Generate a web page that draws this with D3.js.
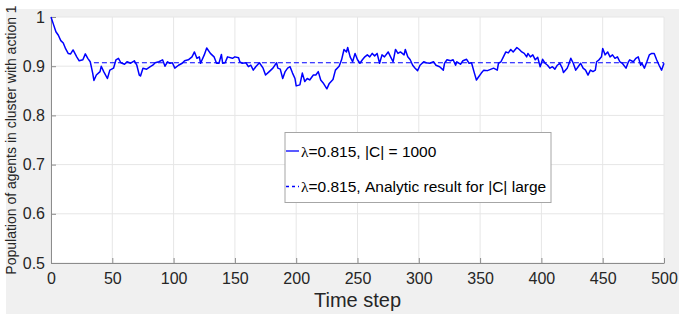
<!DOCTYPE html>
<html>
<head>
<meta charset="utf-8">
<script src="https://cdn.jsdelivr.net/npm/d3@7"></script>
<style>
  body { margin: 0; background: #ffffff; }
  svg { display: block; font-family: "Liberation Sans", Arial, sans-serif; }
</style>
</head>
<body>
<svg id="chart"></svg>
<script>
// time steps and population fraction
const steps = [0, 2, 4, 6, 8, 10, 12, 14, 16, 18, 21, 23, 26, 28, 30, 32, 34, 35, 37, 40, 41, 43, 46, 48, 51, 53, 55, 57, 60, 62, 65, 68, 70, 72, 73, 75, 78, 81, 83,
  85, 88, 91, 93, 95, 97, 99, 101, 104, 107, 109, 112, 115, 117, 119, 121, 122, 125, 127, 130, 133, 135, 137, 139, 140, 142, 144, 148, 150, 153, 154, 156, 159, 161, 163, 165, 167,
  170, 173, 175, 178, 181, 184, 185, 187, 189, 191, 193, 195, 197, 199, 200, 203, 205, 207, 209, 211, 214, 216, 218, 220, 222, 225, 227, 230, 232, 235, 237, 239, 241, 242, 244, 246, 248, 250, 252,
  254, 256, 258, 260, 262, 264, 266, 268, 270, 272, 275, 277, 279, 281, 283, 285, 288, 289, 291, 293, 295, 297, 299, 301, 304, 306, 309, 312, 314, 317, 320, 321, 323, 326, 328, 330, 331, 334, 336,
  339, 341, 343, 345, 347, 349, 351, 353, 356, 359, 361, 364, 365, 367, 369, 371, 373, 375, 377, 380, 382, 384, 386, 388, 389, 391, 393, 395, 397, 399, 401, 403, 405, 407, 409, 411, 413, 415, 417, 418,
  421, 422, 424, 426, 428, 430, 432, 434, 436, 438, 440, 442, 444, 445, 447, 449, 450, 452, 454, 456, 458, 460, 462, 464, 466, 469, 471, 472, 475, 477, 479, 481, 482, 484, 486, 488, 490, 492, 494, 496, 498, 499, 500];

const population = [1.0, 0.985, 0.97, 0.963, 0.952, 0.947, 0.935, 0.926, 0.925, 0.933, 0.919, 0.911, 0.913, 0.925, 0.916, 0.909, 0.886, 0.871, 0.882, 0.889, 0.900, 0.889, 0.875, 0.892, 0.896, 0.913, 0.916, 0.907, 0.904, 0.909, 0.906, 0.911, 0.902, 0.882, 0.880, 0.896, 0.894, 0.899, 0.902,
  0.907, 0.909, 0.913, 0.900, 0.909, 0.906, 0.907, 0.896, 0.902, 0.906, 0.911, 0.913, 0.919, 0.929, 0.916, 0.919, 0.906, 0.923, 0.937, 0.926, 0.919, 0.906, 0.906, 0.924, 0.906, 0.907, 0.919, 0.916, 0.919, 0.917, 0.909, 0.906, 0.907, 0.899, 0.902, 0.892, 0.899,
  0.907, 0.896, 0.882, 0.889, 0.896, 0.907, 0.896, 0.894, 0.875, 0.889, 0.896, 0.899, 0.886, 0.875, 0.860, 0.862, 0.886, 0.869, 0.875, 0.872, 0.882, 0.882, 0.889, 0.872, 0.866, 0.854, 0.865, 0.873, 0.892, 0.900, 0.913, 0.934, 0.929, 0.938, 0.919, 0.909, 0.926, 0.913, 0.906,
  0.913, 0.919, 0.923, 0.919, 0.926, 0.921, 0.926, 0.906, 0.923, 0.919, 0.929, 0.919, 0.909, 0.934, 0.926, 0.929, 0.923, 0.934, 0.919, 0.913, 0.902, 0.896, 0.891, 0.902, 0.909, 0.907, 0.906, 0.909, 0.902, 0.899, 0.892, 0.906, 0.913, 0.911, 0.913, 0.902, 0.909, 0.904, 0.911,
  0.914, 0.906, 0.907, 0.889, 0.872, 0.879, 0.886, 0.892, 0.891, 0.894, 0.896, 0.892, 0.906, 0.909, 0.919, 0.929, 0.927, 0.934, 0.929, 0.938, 0.934, 0.929, 0.926, 0.919, 0.926, 0.919, 0.923, 0.913, 0.918, 0.899, 0.914, 0.906, 0.902, 0.896, 0.899, 0.894, 0.902, 0.906, 0.896, 0.887,
  0.896, 0.902, 0.916, 0.906, 0.892, 0.899, 0.906, 0.896, 0.892, 0.882, 0.892, 0.889, 0.892, 0.909, 0.913, 0.919, 0.936, 0.923, 0.929, 0.919, 0.923, 0.916, 0.919, 0.909, 0.906, 0.896, 0.909, 0.913, 0.909, 0.916, 0.919, 0.902, 0.906, 0.896, 0.909, 0.923, 0.926, 0.926, 0.913, 0.902, 0.892, 0.899, 0.906];

// analytic result for large |C|
const analyticSteps = [35, 500];
const analyticValues = [0.907, 0.907];

const xTicks = [0, 50, 100, 150, 200, 250, 300, 350, 400, 450, 500];
const yTicks = [0.5, 0.6, 0.7, 0.8, 0.9, 1];

const legendLabels = ["=0.815, |C| = 1000", "=0.815, Analytic result for |C| large"];

const width = 679;
const height = 314;
const marginTop = 17;
const marginRight = 15;
const marginBottom = 51;
const marginLeft = 51;

const axisColor = "#8c8c8c";
const textColor = "#262626";
const gridColor = "#e6e6e6";

const svg = d3.select("svg#chart")
  .attr("width", width)
  .attr("height", height)
  .attr("viewBox", [0, 0, width, height]);

// figure background
svg.append("rect")
  .attr("x", 6)
  .attr("y", 9)
  .attr("width", width - 6)
  .attr("height", height - 9)
  .attr("fill", "#f0f0f0");

// axes background
svg.append("rect")
  .attr("x", marginLeft)
  .attr("y", marginTop)
  .attr("width", width - marginLeft - marginRight)
  .attr("height", height - marginTop - marginBottom)
  .attr("fill", "#ffffff");

const x = d3.scaleLinear([0, 500], [marginLeft, width - marginRight]);
const y = d3.scaleLinear([0.5, 1], [height - marginBottom, marginTop]);

// grid lines
svg.append("g")
  .selectAll("line")
  .data(xTicks)
  .join("line")
  .attr("x1", d => x(d))
  .attr("x2", d => x(d))
  .attr("y1", marginTop)
  .attr("y2", height - marginBottom)
  .attr("stroke", gridColor);

svg.append("g")
  .selectAll("line")
  .data(yTicks)
  .join("line")
  .attr("x1", marginLeft)
  .attr("x2", width - marginRight)
  .attr("y1", d => y(d))
  .attr("y2", d => y(d))
  .attr("stroke", gridColor);

// Add the x-axis.
svg.append("g")
  .attr("transform", `translate(0,${height - marginBottom})`)
  .call(d3.axisBottom(x).tickValues(xTicks).tickSizeInner(-5).tickSizeOuter(0).tickPadding(10))
  .call(g => g.select(".domain").attr("stroke", axisColor))
  .call(g => g.selectAll(".tick line").attr("stroke", axisColor))
  .call(g => g.selectAll(".tick text")
    .attr("fill", textColor)
    .style("font-size", "16px")
    .attr("font-family", "Liberation Sans, Arial, sans-serif"));

// Add the y-axis.
svg.append("g")
  .attr("transform", `translate(${marginLeft},0)`)
  .call(d3.axisLeft(y).tickValues(yTicks).tickSizeInner(-5).tickSizeOuter(0).tickPadding(6)
    .tickFormat(d => d === 1 ? "1" : d3.format(".1f")(d)))
  .call(g => g.select(".domain").attr("stroke", axisColor))
  .call(g => g.selectAll(".tick line").attr("stroke", axisColor))
  .call(g => g.selectAll(".tick text")
    .attr("fill", textColor)
    .style("font-size", "16px")
    .attr("font-family", "Liberation Sans, Arial, sans-serif"));

// axis labels
svg.append("text")
  .attr("x", (marginLeft + width - marginRight) / 2)
  .attr("y", 307)
  .attr("text-anchor", "middle")
  .attr("fill", textColor)
  .style("font-size", "20px")
  .text("Time step");

svg.append("text")
  .attr("transform", `translate(16,${(marginTop + height - marginBottom) / 2}) rotate(-90)`)
  .attr("text-anchor", "middle")
  .attr("fill", textColor)
  .style("font-size", "14px")
  .text("Population of agents in cluster with action 1");

// Declare the line generator.
const line = d3.line()
  .x(d => x(d[0]))
  .y(d => y(d[1]));

svg.append("path")
  .attr("fill", "none")
  .attr("stroke", "#0000ff")
  .attr("stroke-width", 1.5)
  .attr("stroke-linejoin", "round")
  .attr("d", line(d3.zip(steps, population)));

svg.append("path")
  .attr("fill", "none")
  .attr("stroke", "#0000ff")
  .attr("stroke-width", 1.2)
  .attr("stroke-dasharray", "5,3")
  .attr("d", line(d3.zip(analyticSteps, analyticValues)));

// legend
const legend = svg.append("g");
legend.append("rect")
  .attr("x", 285)
  .attr("y", 132.5)
  .attr("width", 266)
  .attr("height", 70)
  .attr("fill", "#ffffff")
  .attr("stroke", "#a6a6a6");

const legendDash = [null, "3,3"];
legendLabels.forEach((label, i) => {
  const ly = 151 + i * 35.5;
  legend.append("line")
    .attr("x1", 286)
    .attr("x2", 299)
    .attr("y1", ly)
    .attr("y2", ly)
    .attr("stroke", "#0000ff")
    .attr("stroke-width", 1.3)
    .attr("stroke-dasharray", legendDash[i]);
  const t = legend.append("text")
    .attr("x", 301)
    .attr("y", ly + 5.5)
    .attr("fill", "#000000")
    .style("font-size", "15.5px");
  t.append("tspan")
    .attr("font-family", "Liberation Serif, serif")
    .text("\u03bb");
  t.append("tspan").text(label);
});
</script>
</body>
</html>
